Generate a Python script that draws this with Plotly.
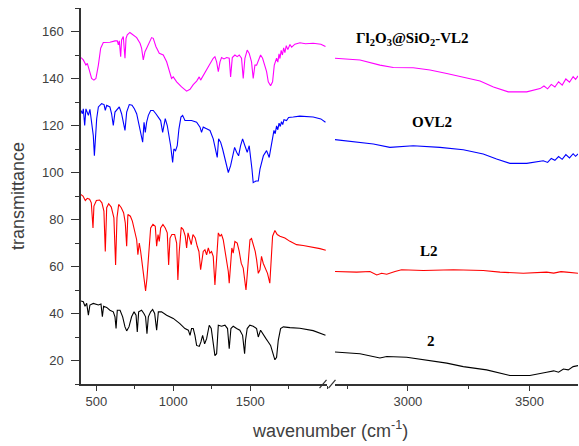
import plotly.graph_objects as go

# ---------------- data ----------------
# spectrum "Γl2O3@SiO2-VL2" (magenta)
mag_w_left = [400, 415, 432, 441, 454, 469, 484, 497, 513, 528, 545, 588, 621, 636, 643, 649, 658, 664, 675, 686,
              693, 701, 718, 740, 762, 784, 794, 805, 816, 827, 842, 859, 870, 887, 909, 935, 957, 978, 989, 1000,
              1022, 1054, 1087, 1109, 1130, 1152, 1169, 1178, 1195, 1228, 1260, 1271, 1282, 1293, 1304, 1314, 1330,
              1347, 1364, 1373, 1384, 1401, 1416, 1429, 1444, 1455, 1466, 1481, 1494, 1509, 1520, 1531, 1542, 1553,
              1568, 1581, 1596, 1607, 1618, 1633, 1646, 1657, 1672, 1680, 1688, 1694, 1702, 1710, 1718, 1726, 1735,
              1745, 1759, 1770, 1791, 1824, 1860, 1910, 1960, 1990]
mag_v_left = [148.9, 147.9, 145.7, 146.4, 143.6, 140.0, 139.3, 140.0, 145.7, 152.9, 155.3, 155.4, 156.0, 156.0, 154.3,
              156.0, 149.3, 156.4, 157.9, 148.6, 157.1, 158.6, 159.6, 158.6, 157.4, 155.0, 152.9, 147.9, 151.4, 152.9,
              155.0, 157.4, 157.1, 153.6, 150.7, 150.0, 147.1, 142.1, 140.0, 140.7, 138.6, 136.4, 134.6, 135.4, 137.4,
              138.9, 140.7, 139.3, 141.4, 145.0, 148.6, 149.3, 147.1, 142.9, 147.1, 148.9, 148.3, 148.9, 148.6, 140.7,
              148.9, 150.0, 149.3, 150.0, 148.6, 140.0, 148.6, 152.1, 150.7, 147.1, 140.0, 145.7, 145.7, 147.9, 150.0,
              148.6, 145.7, 142.9, 138.6, 136.9, 138.6, 145.7, 148.6, 147.0, 150.5, 148.5, 152.0, 150.0, 153.0, 151.0,
              154.0, 152.3, 154.5, 153.3, 154.6, 155.2, 154.8, 155.0, 154.6, 153.6]
mag_w_right = [2700, 2803, 2885, 2940, 3022, 3091, 3160, 3228, 3297, 3352, 3413, 3489, 3544, 3560, 3575, 3590, 3605,
               3620, 3635, 3650, 3665, 3680, 3690, 3700]
mag_v_right = [148.6, 147.9, 145.7, 144.7, 144.6, 143.6, 142.1, 140.4, 138.9, 136.4, 134.3, 134.3, 135.7, 136.8, 135.6,
               137.5, 136.4, 138.6, 137.2, 139.8, 138.4, 140.8, 139.6, 141.1]

# spectrum "OVL2" (blue)
blue_w_left = [400, 409, 415, 424, 432, 441, 448, 458, 469, 480, 487, 493, 502, 513, 534, 550, 558, 567, 588, 599, 610,
               621, 636, 649, 664, 680, 686, 697, 714, 732, 747, 762, 779, 790, 801, 810, 818, 827, 838, 853, 870, 887,
               903, 918, 931, 940, 948, 961, 972, 983, 996, 1004, 1015, 1026, 1037, 1050, 1061, 1076, 1091, 1119, 1152,
               1174, 1184, 1195, 1217, 1239, 1260, 1278, 1286, 1295, 1308, 1321, 1338, 1358, 1373, 1386, 1399, 1412,
               1425, 1438, 1451, 1466, 1481, 1494, 1503, 1512, 1520, 1538, 1553, 1564, 1586, 1607, 1624, 1640, 1655,
               1663, 1672, 1680, 1688, 1696, 1704, 1712, 1720, 1737, 1750, 1780, 1823, 1910, 1960, 1990]
blue_v_left = [126.4, 125.0, 127.1, 120.0, 127.1, 125.0, 124.3, 126.9, 121.4, 115.7, 107.1, 115.7, 122.9, 127.9, 129.3,
               128.9, 126.4, 128.6, 127.9, 125.0, 120.0, 125.7, 127.1, 127.9, 125.0, 120.7, 117.9, 125.7, 128.9, 128.6,
               127.1, 125.0, 120.0, 115.7, 112.9, 121.4, 117.1, 121.4, 124.3, 126.4, 126.4, 125.0, 123.6, 122.1, 117.1,
               120.0, 122.9, 120.0, 115.7, 111.4, 104.3, 110.0, 109.3, 111.4, 118.6, 123.6, 124.3, 122.1, 122.1, 122.1,
               121.4, 119.3, 117.1, 119.3, 118.6, 117.9, 114.3, 108.6, 106.4, 114.3, 112.9, 110.0, 105.7, 100.0, 102.9,
               106.4, 110.7, 108.6, 107.1, 111.4, 114.3, 111.4, 108.6, 111.4, 107.1, 101.4, 95.7, 96.4, 96.4, 101.4,
               107.1, 109.3, 106.4, 112.9, 117.9, 116.5, 119.8, 118.2, 121.0, 119.6, 121.6, 120.4, 122.5, 122.1, 123.4,
               123.6, 124.0, 123.6, 122.8, 121.4]
blue_w_right = [2700, 2789, 2858, 2926, 3022, 3132, 3228, 3310, 3365, 3420, 3489, 3557, 3575, 3590, 3605, 3620, 3635,
                3650, 3665, 3680, 3690, 3700]
blue_v_right = [114.0, 113.1, 112.1, 110.7, 111.4, 110.7, 109.7, 107.9, 105.7, 103.9, 103.9, 105.0, 104.3, 106.0, 105.2,
                106.8, 105.6, 107.6, 106.2, 108.0, 106.9, 107.9]

# spectrum "L2" (red)
red_w_left = [398, 413, 428, 441, 456, 467, 478, 484, 500, 521, 536, 549, 558, 567, 580, 597, 614, 625, 634, 645, 662,
              677, 688, 697, 705, 721, 734, 749, 762, 770, 779, 788, 796, 807, 820, 829, 840, 853, 868, 883, 892, 901,
              909, 918, 933, 948, 961, 970, 979, 991, 1009, 1022, 1030, 1039, 1052, 1065, 1078, 1087, 1096, 1106, 1117,
              1128, 1143, 1156, 1167, 1178, 1186, 1195, 1206, 1217, 1228, 1238, 1249, 1260, 1271, 1278, 1286, 1293,
              1304, 1314, 1325, 1336, 1347, 1358, 1364, 1373, 1381, 1390, 1401, 1416, 1429, 1442, 1455, 1466, 1473,
              1481, 1490, 1499, 1509, 1520, 1533, 1542, 1553, 1564, 1574, 1585, 1600, 1613, 1628, 1639, 1646, 1661,
              1676, 1694, 1726, 1759, 1802, 1845, 1878, 1910, 1954, 1992]
red_v_left = [90.7, 90.0, 88.1, 89.0, 88.6, 87.1, 76.4, 85.7, 88.1, 88.3, 87.1, 83.6, 66.4, 85.0, 86.7, 85.3, 80.7, 60.7,
              80.7, 86.4, 85.0, 82.9, 78.6, 68.6, 82.1, 81.4, 79.3, 75.7, 71.4, 65.0, 70.0, 66.4, 62.1, 55.0, 49.6, 55.0,
              65.0, 76.4, 77.9, 77.1, 68.6, 73.6, 70.7, 76.4, 77.9, 76.4, 74.3, 60.7, 72.1, 73.6, 73.6, 70.0, 54.3, 66.4,
              76.7, 75.7, 72.9, 67.9, 74.3, 71.4, 69.3, 73.6, 72.1, 68.6, 66.4, 58.6, 62.0, 66.4, 67.1, 65.0, 67.9, 65.7,
              66.4, 64.3, 52.1, 59.3, 69.3, 74.3, 72.9, 73.6, 71.4, 67.1, 63.6, 57.9, 52.9, 62.1, 67.9, 65.7, 70.7, 70.0,
              66.4, 61.4, 59.3, 53.6, 50.0, 56.4, 66.4, 71.4, 71.9, 69.3, 66.4, 62.9, 57.1, 58.6, 64.3, 61.4, 58.6, 57.1,
              52.9, 62.9, 72.9, 75.3, 73.6, 72.9, 72.1, 70.7, 69.3, 68.9, 68.6, 68.1, 67.6, 66.9]
red_w_right = [2700, 2789, 2844, 2872, 2892, 2913, 2947, 2974, 3064, 3187, 3310, 3379, 3475, 3571, 3600, 3630, 3653,
               3680, 3704]
red_v_right = [57.9, 57.6, 57.9, 56.4, 57.1, 56.7, 57.9, 58.6, 58.3, 58.6, 58.3, 57.6, 57.1, 57.6, 57.2, 57.8, 57.6,
               57.2, 57.1]

# spectrum "2" (black)
blk_w_left = [400, 415, 426, 437, 448, 458, 480, 513, 530, 539, 547, 567, 588, 610, 621, 628, 636, 654, 671, 686, 697,
              712, 729, 745, 758, 766, 775, 794, 809, 820, 829, 838, 853, 866, 879, 892, 903, 924, 957, 1000, 1043,
              1076, 1098, 1109, 1119, 1130, 1141, 1152, 1169, 1180, 1191, 1204, 1217, 1234, 1247, 1260, 1271, 1282,
              1293, 1314, 1336, 1353, 1364, 1375, 1390, 1412, 1433, 1451, 1464, 1470, 1481, 1498, 1520, 1542, 1553,
              1568, 1586, 1603, 1618, 1633, 1646, 1661, 1672, 1683, 1698, 1716, 1759, 1823, 1910, 1990]
blk_v_left = [45.3, 45.0, 43.1, 44.3, 39.3, 43.6, 44.3, 43.6, 44.0, 38.6, 43.1, 42.6, 41.4, 40.7, 38.6, 33.6, 41.4, 41.4,
              38.6, 34.3, 32.6, 34.3, 38.6, 40.7, 39.3, 32.1, 40.7, 41.4, 40.0, 38.6, 31.4, 38.6, 40.7, 41.7, 40.0, 32.9,
              40.7, 40.7, 39.3, 37.9, 35.7, 33.6, 32.9, 30.7, 33.6, 33.6, 30.7, 26.4, 26.0, 27.9, 30.7, 27.1, 29.3, 35.0,
              33.6, 27.1, 22.1, 22.9, 35.0, 34.6, 35.0, 33.6, 25.0, 33.6, 34.6, 33.6, 32.9, 30.7, 22.9, 28.6, 33.6, 35.0,
              34.6, 33.6, 30.0, 32.9, 30.7, 29.3, 27.9, 26.4, 23.6, 20.3, 21.4, 28.6, 33.6, 34.3, 34.0, 33.7, 32.7, 30.7]
blk_w_right = [2700, 2803, 2885, 2913, 2995, 3077, 3160, 3228, 3324, 3420, 3502, 3571, 3600, 3620, 3640, 3660, 3680,
               3704]
blk_v_right = [23.6, 22.9, 21.1, 21.7, 21.4, 20.0, 18.9, 17.4, 16.0, 13.6, 13.6, 15.0, 15.6, 15.0, 16.4, 16.0, 17.4, 17.9]

series = [
    ("<b>Γl<sub>2</sub>O<sub>3</sub>@SiO<sub>2</sub>-VL2</b>", "#ff00ff", mag_w_left, mag_v_left, mag_w_right, mag_v_right, 3017, 157.0),
    ("<b>OVL2</b>", "#0000ff", blue_w_left, blue_v_left, blue_w_right, blue_v_right, 3099, 121.6),
    ("<b>L2</b>", "#ff0000", red_w_left, red_v_left, red_w_right, red_v_right, 3087, 66.7),
    ("<b>2</b>", "#000000", blk_w_left, blk_v_left, blk_w_right, blk_v_right, 3095, 28.1),
]

y_ticks = [20, 40, 60, 80, 100, 120, 140, 160]
x_ticks_left = [500, 1000, 1500]
x_ticks_right = [3000, 3500]

# ---------------- figure ----------------
fig = go.Figure()
for name, col, wl, vl, wr, vr, lx, ly in series:
    fig.add_trace(go.Scatter(x=wl, y=vl, mode="lines", line=dict(color=col, width=1.1),
                             xaxis="x", yaxis="y", showlegend=False, hoverinfo="skip"))
    fig.add_trace(go.Scatter(x=wr, y=vr, mode="lines", line=dict(color=col, width=1.1),
                             xaxis="x2", yaxis="y", showlegend=False, hoverinfo="skip"))
    fig.add_annotation(x=lx, y=ly, xref="x2", yref="y", text=name, showarrow=False,
                       font=dict(family="Liberation Serif", size=15, color="#000000"))

d1 = [0.0, 0.495]
d2 = [0.511, 1.0]
tickfont = dict(family="Liberation Sans, Arial", size=13, color="#404040")
axis_common = dict(showgrid=False, zeroline=False, showline=True, linecolor="#333333", linewidth=1.5,
                   ticks="outside", tickcolor="#333333", tickwidth=1.2, ticklen=5, tickfont=tickfont,
                   automargin=False,
                   minor=dict(ticks="outside", ticklen=3, tickcolor="#333333", tickwidth=1.2, dtick=250))

fig.update_layout(
    width=579, height=446,
    margin=dict(l=81, r=1, t=8, b=62),
    paper_bgcolor="white", plot_bgcolor="white",
    xaxis=dict(domain=d1, range=[400, 2000], tickvals=x_ticks_left, anchor="y", **axis_common),
    xaxis2=dict(domain=d2, range=[2700, 3700], tickvals=x_ticks_right, anchor="y", **axis_common),
    yaxis=dict(range=[10, 170], tickvals=y_ticks, showgrid=False, zeroline=False, showline=True,
               linecolor="#333333", linewidth=1.5, ticks="outside", tickcolor="#333333", tickwidth=1.2,
               ticklen=8, tickfont=tickfont, automargin=False, ticklabelstandoff=5,
               minor=dict(ticks="outside", ticklen=4, tickcolor="#333333", tickwidth=1.2, dtick=10)),
)

# y-axis title
fig.add_annotation(x=-63 / 497, y=0.5, xref="paper", yref="paper", xanchor="center", yanchor="middle",
                   textangle=-90, showarrow=False, text="transmittance",
                   font=dict(family="Liberation Sans, Arial", size=18, color="#404040"))

# x-axis title spanning both segments
fig.add_annotation(x=0.5, y=-45 / 376, xref="paper", yref="paper", yanchor="middle", showarrow=False,
                   text="wavenumber (cm<sup>-1</sup>)",
                   font=dict(family="Liberation Sans, Arial", size=18, color="#404040"))

# axis break marks "//"
for xs in (d1[1] - 0.008, d1[1] + 0.010):
    fig.add_shape(type="line", xref="paper", yref="paper",
                  x0=xs - 0.007, y0=-0.011, x1=xs + 0.007, y1=0.011,
                  line=dict(color="#333333", width=1.2))

fig.write_html("out.html", config={"displayModeBar": False},
               post_script="document.body.style.margin='0';document.body.style.overflow='hidden';")
